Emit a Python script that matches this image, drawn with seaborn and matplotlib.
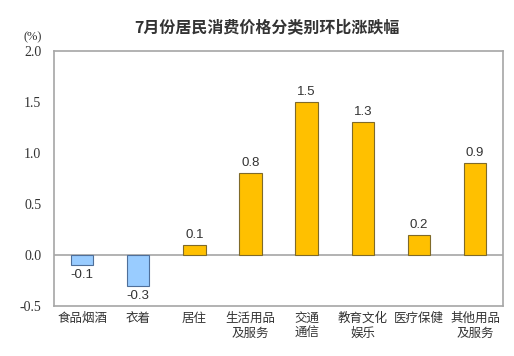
import pandas as pd
import seaborn as sns
import matplotlib.pyplot as plt

# category labels and month-on-month change (%)
categories = ['食品烟酒', '衣着', '居住', '生活用品\n及服务', '交通\n通信', '教育文化\n娱乐', '医疗保健', '其他用品\n及服务']
values = [-0.1, -0.3, 0.1, 0.8, 1.5, 1.3, 0.2, 0.9]
y_ticks = [-0.5, 0.0, 0.5, 1.0, 1.5, 2.0]

df = pd.DataFrame({'category': categories, 'value': values})
df['sign'] = ['neg' if v < 0 else 'pos' for v in df['value']]

sns.set_style('white')
plt.rcParams['font.family'] = ['Noto Sans CJK SC', 'DejaVu Sans']

fig = plt.figure(figsize=(5.14, 3.56), dpi=100)
ax = fig.add_axes([0.105, 0.140, 0.874, 0.717])

sns.barplot(data=df, x='category', y='value', hue='sign',
            palette={'pos': '#FFC000', 'neg': '#99CCFF'}, saturation=1,
            dodge=False, width=0.4, edgecolor='#7F6A2A', linewidth=0.8,
            legend=False, ax=ax)

# negative bars get a blue-grey edge
for patch in ax.patches:
    if patch.get_height() < 0:
        patch.set_edgecolor('#4F6F99')

ax.axhline(0, color='#A6A6A6', linewidth=1.2, zorder=0)
ax.set_ylim(-0.5, 2.0)
ax.set_yticks(y_ticks)
ax.set_yticklabels([f'{t:.1f}' for t in y_ticks], fontfamily='Liberation Serif')
ax.set_xlim(-0.5, len(categories) - 0.5)
ax.set_xlabel('')
ax.set_ylabel('')
ax.tick_params(axis='x', length=0, labelsize=9, pad=4, labelcolor='#333333')
ax.tick_params(axis='y', length=3, width=0.8, color='#A6A6A6', direction='out',
               pad=6, labelsize=10, labelcolor='#333333')
for s in ax.spines.values():
    s.set_color('#A6A6A6')
    s.set_linewidth(1.2)

# value labels
for i, v in enumerate(values):
    off = 0.04 if v >= 0 else -0.04
    ax.text(i, v + off, f'{v:.1f}', ha='center', va='bottom' if v >= 0 else 'top',
            family='Liberation Sans', fontsize=9.5, color='#333333')

fig.text(0.52, 0.925, '7月份居民消费价格分类别环比涨跌幅', ha='center', va='center',
         fontsize=11.5, fontweight='bold', color='#333333')
fig.text(0.045, 0.895, '(%)', ha='left', va='center', family='Liberation Serif',
         fontsize=9, color='#333333')

fig.savefig('out.png', dpi=100)
